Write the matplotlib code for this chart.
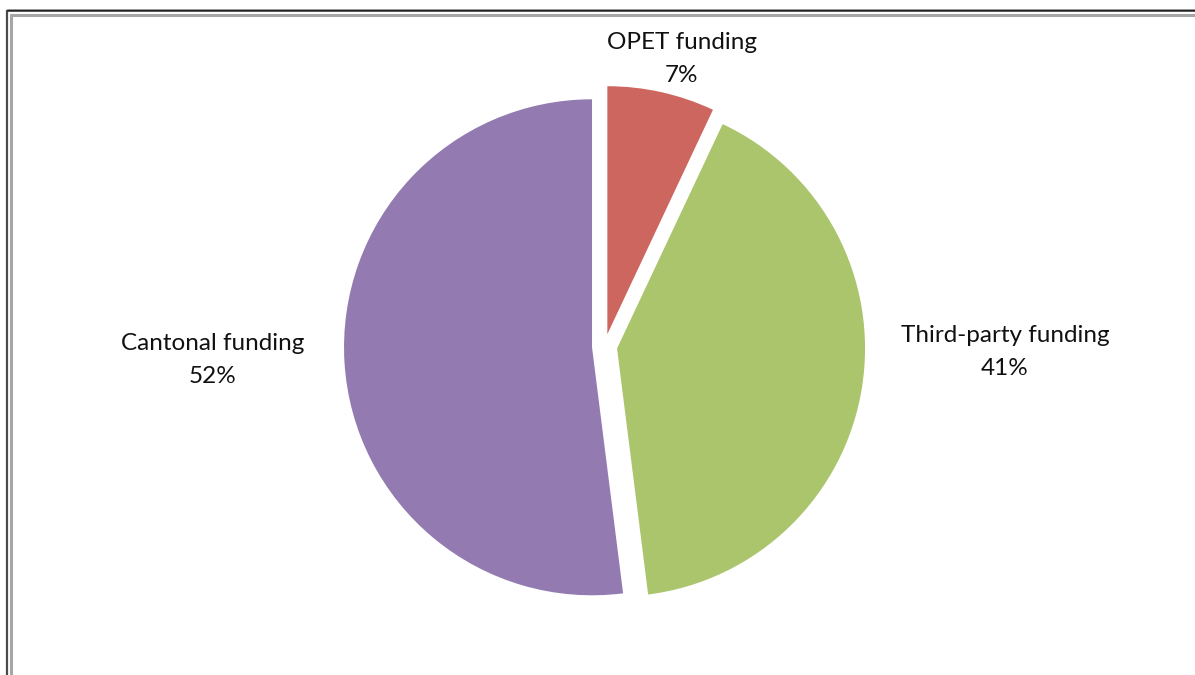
import matplotlib
matplotlib.use("Agg")
import matplotlib.pyplot as plt

# Funding shares (percent)
categories = ["OPET funding", "Third-party funding", "Cantonal funding"]
shares = [7, 41, 52]
colors = ["#CD665F", "#ABC56D", "#937BB1"]

W, H = 1195, 675
fig = plt.figure(figsize=(W / 100, H / 100), dpi=100)
ax = fig.add_axes([0, 0, 1, 1])


def py(y):
    """Convert a top-down pixel row to the axes' bottom-up y."""
    return H - y


radius = 248
center = (604.6, py(346.5))
explode = [12.6] * len(shares)

ax.pie(shares, colors=colors, startangle=90, counterclock=False,
       radius=radius, center=center, explode=explode,
       wedgeprops=dict(linewidth=0, antialiased=True))

# Category labels with their percentages
label_pos = [(682, 59), (1005, 352), (213, 360)]
for (x, y), name, val in zip(label_pos, categories, shares):
    ax.text(x, py(y), f"{name}\n{val}%", ha="center", va="center",
            fontsize=17.5, family=["Lato", "DejaVu Sans"], color="#111111",
            linespacing=1.75)

# Double frame around the chart area
ax.plot([7.5, 7.5], [py(9.5), py(H + 5)], color="#4a4a4a", lw=1.6,
        solid_capstyle="butt")
ax.plot([7.5, W + 5], [py(10), py(10)], color="#222222", lw=1.8,
        solid_capstyle="butt")
ax.plot([7, W + 5], [py(8.8), py(8.8)], color="#9a9a9a", lw=0.7,
        solid_capstyle="butt")
ax.plot([11.2, 11.2], [py(13.5), py(H + 5)], color="#a6a6a6", lw=2.2,
        solid_capstyle="butt")
ax.plot([10.2, W + 5], [py(14.5), py(14.5)], color="#a6a6a6", lw=2.2,
        solid_capstyle="butt")

ax.set_xlim(0, W)
ax.set_ylim(0, H)
ax.set_aspect("auto")
ax.axis("off")

fig.savefig("out.png", dpi=100, facecolor="white")
